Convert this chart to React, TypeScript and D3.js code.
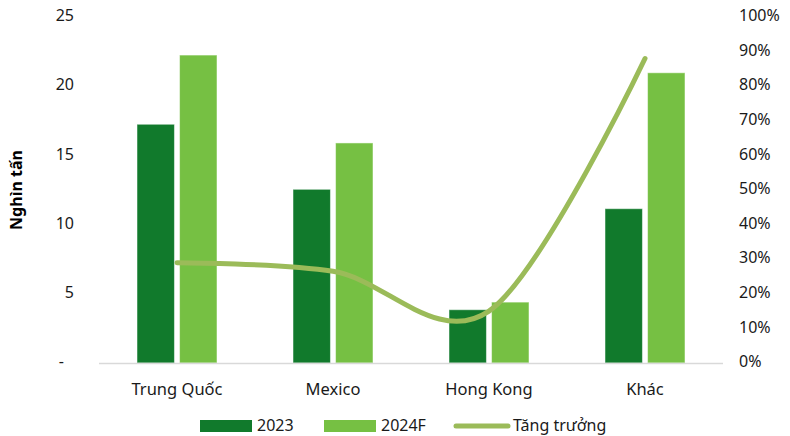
import React from "react";
import * as d3 from "d3";

const categories = ["Trung Quốc", "Mexico", "Hong Kong", "Khác"];
const series2023 = [17.25, 12.55, 3.85, 11.15];
const series2024F = [22.25, 15.9, 4.4, 20.97];
const growth = [0.29, 0.265, 0.15, 0.88];
const leftTicks = [0, 5, 10, 15, 20, 25];
const rightTicks = [0, 0.1, 0.2, 0.3, 0.4, 0.5, 0.6, 0.7, 0.8, 0.9, 1.0];
const seriesNames = ["2023", "2024F", "Tăng trưởng"];

const W = 790;
const H = 436;
const C2023 = "#117a2c";
const C2024 = "#76c043";
const CLINE = "#9bbb59";
const FONT = "'Noto Sans', 'Open Sans', sans-serif";

export default function App() {
  const x = d3.scaleBand<string>().domain(categories).range([99, 723]).paddingInner(0).paddingOuter(0);
  const sub = d3.scaleBand<string>().domain(["a", "b"]).range([38, 118]).paddingInner(0.12);
  const yL = d3.scaleLinear().domain([0, 25]).range([363, 17]);
  const yR = d3.scaleLinear().domain([0, 1]).range([363, 17]);
  const line = d3
    .line<number>()
    .x((_, i) => (x(categories[i]) as number) + x.bandwidth() / 2)
    .y((d) => yR(d))
    .curve(d3.curveCatmullRom.alpha(0));

  return (
    <svg width={W} height={H} style={{ position: "absolute", left: 0, top: 0, background: "#fff" }} fontFamily={FONT}>
      {/* left axis labels */}
      {leftTicks.map((t) => (
        <text key={"l" + t} x={t === 0 ? 64 : 74} y={yL(t)} textAnchor="end" dominantBaseline="middle" fontSize={16} fill="#1a1a1a">
          {t === 0 ? "-" : t}
        </text>
      ))}
      {/* right axis labels */}
      {rightTicks.map((t) => (
        <text key={"r" + t} x={739} y={yR(t)} textAnchor="start" dominantBaseline="middle" fontSize={16} fill="#1a1a1a">
          {Math.round(t * 100) + "%"}
        </text>
      ))}
      <text
        transform={`translate(18,190) rotate(-90)`}
        textAnchor="middle"
        dominantBaseline="middle"
        fontSize={16}
        fontWeight="bold"
        fill="#000"
      >
        Nghìn tấn
      </text>
      {/* bars */}
      {categories.map((c, i) => (
        <g key={c} transform={`translate(${x(c)},0)`}>
          <rect
            x={sub("a")}
            width={sub.bandwidth()}
            y={yL(series2023[i])}
            height={yL(0) - yL(series2023[i])}
            fill={C2023}
            stroke="rgba(255,255,255,0.5)"
            strokeWidth={1}
          />
          <rect
            x={sub("b")}
            width={sub.bandwidth()}
            y={yL(series2024F[i])}
            height={yL(0) - yL(series2024F[i])}
            fill={C2024}
            stroke="rgba(255,255,255,0.5)"
            strokeWidth={1}
          />
        </g>
      ))}
      {/* baseline */}
      <line x1={99} x2={723} y1={363.5} y2={363.5} stroke="#d9d9d9" strokeWidth={1.5} />
      {/* growth line */}
      <path d={line(growth) || ""} fill="none" stroke={CLINE} strokeWidth={5} strokeLinecap="round" />
      {/* category labels */}
      {categories.map((c) => (
        <text key={"c" + c} x={(x(c) as number) + x.bandwidth() / 2} y={395} textAnchor="middle" fontSize={16.5} fill="#1a1a1a">
          {c}
        </text>
      ))}
      {/* legend */}
      <rect x={200} y={420} width={52} height={12} fill={C2023} />
      <text x={257} y={431} fontSize={16} fill="#1a1a1a">{seriesNames[0]}</text>
      <rect x={324} y={420} width={52} height={12} fill={C2024} />
      <text x={381} y={431} fontSize={16} fill="#1a1a1a">{seriesNames[1]}</text>
      <line x1={456} x2={508} y1={426} y2={426} stroke={CLINE} strokeWidth={5} strokeLinecap="round" />
      <text x={513} y={431} fontSize={16} fill="#1a1a1a">{seriesNames[2]}</text>
    </svg>
  );
}
